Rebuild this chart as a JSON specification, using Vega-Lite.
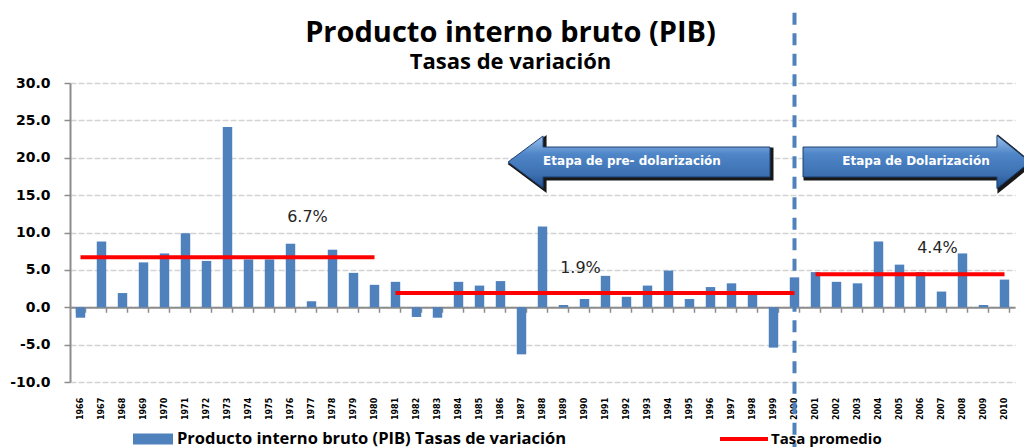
{
  "$schema": "https://vega.github.io/schema/vega-lite/v6.json",
  "autosize": {"type": "none"},
  "width": 945,
  "height": 299,
  "padding": {"left": 70, "top": 83, "right": 9, "bottom": 65},
  "background": "#ffffff",
  "title": {
    "text": "Producto interno bruto (PIB)",
    "subtitle": "Tasas de variación",
    "anchor": "middle",
    "dx": -32,
    "frame": "group",
    "offset": -62,
    "font": "Open Sans",
    "fontSize": 29,
    "fontWeight": "bold",
    "color": "#000000",
    "subtitleFont": "Open Sans",
    "subtitleFontSize": 22,
    "subtitleFontWeight": "bold",
    "subtitleColor": "#000000",
    "subtitlePadding": 4
  },
  "config": {
    "view": {"stroke": null},
    "legend": {"padding": 0, "labelLimit": 600},
    "axisY": {
      "grid": true,
      "gridColor": "#d4d4d4",
      "gridDash": [6, 2],
      "gridWidth": 1.5,
      "gridOpacity": 1,
      "labelOverlap": false,
      "labelSeparation": 0,
      "labelFont": "DejaVu Sans",
      "labelFontWeight": "bold",
      "labelFontSize": 14,
      "labelColor": "#000000",
      "labelPadding": 14,
      "tickSize": 6,
      "tickColor": "#8c8c8c",
      "tickWidth": 1.5,
      "domainColor": "#8c8c8c",
      "domainWidth": 2
    }
  },
  "datasets": {
    "bars": [
      {"year": "1966", "pib": -1.4}, {"year": "1967", "pib": 8.8}, {"year": "1968", "pib": 1.9},
      {"year": "1969", "pib": 6.0}, {"year": "1970", "pib": 7.2}, {"year": "1971", "pib": 9.9},
      {"year": "1972", "pib": 6.2}, {"year": "1973", "pib": 24.1}, {"year": "1974", "pib": 6.4},
      {"year": "1975", "pib": 6.4}, {"year": "1976", "pib": 8.5}, {"year": "1977", "pib": 0.8},
      {"year": "1978", "pib": 7.7}, {"year": "1979", "pib": 4.6}, {"year": "1980", "pib": 3.0},
      {"year": "1981", "pib": 3.4}, {"year": "1982", "pib": -1.3}, {"year": "1983", "pib": -1.4},
      {"year": "1984", "pib": 3.4}, {"year": "1985", "pib": 2.9}, {"year": "1986", "pib": 3.5},
      {"year": "1987", "pib": -6.3}, {"year": "1988", "pib": 10.8}, {"year": "1989", "pib": 0.3},
      {"year": "1990", "pib": 1.1}, {"year": "1991", "pib": 4.2}, {"year": "1992", "pib": 1.4},
      {"year": "1993", "pib": 2.9}, {"year": "1994", "pib": 4.9}, {"year": "1995", "pib": 1.1},
      {"year": "1996", "pib": 2.7}, {"year": "1997", "pib": 3.2}, {"year": "1998", "pib": 1.8},
      {"year": "1999", "pib": -5.4}, {"year": "2000", "pib": 4.0}, {"year": "2001", "pib": 4.7},
      {"year": "2002", "pib": 3.4}, {"year": "2003", "pib": 3.2}, {"year": "2004", "pib": 8.8},
      {"year": "2005", "pib": 5.7}, {"year": "2006", "pib": 4.7}, {"year": "2007", "pib": 2.1},
      {"year": "2008", "pib": 7.2}, {"year": "2009", "pib": 0.3}, {"year": "2010", "pib": 3.7}
    ],
    "avg": [
      {"year": "1966", "period": "pre", "avg": 6.7}, {"year": "1980", "period": "pre", "avg": 6.7},
      {"year": "1981", "period": "mid", "avg": 1.9}, {"year": "2000", "period": "mid", "avg": 1.9},
      {"year": "2001", "period": "dol", "avg": 4.4}, {"year": "2010", "period": "dol", "avg": 4.4}
    ],
    "labels": [
      {"year": "1977", "y": 12.07, "label": "6.7%"},
      {"year": "1990", "y": 5.25, "label": "1.9%"},
      {"year": "2007", "y": 7.97, "label": "4.4%"}
    ],
    "arrows": [
      {"year": "1993", "y": 19.43, "dir": "left"},
      {"year": "2006", "y": 19.43, "dir": "right"}
    ]
  },
  "encoding": {
    "x": {
      "field": "year",
      "type": "nominal",
      "sort": null,
      "scale": {"paddingInner": 0.55, "paddingOuter": 0.275},
      "axis": {
        "orient": "bottom",
        "offset": -74.75,
        "title": null,
        "grid": false,
        "domainColor": "#8c8c8c",
        "domainWidth": 2,
        "tickColor": "#8c8c8c",
        "tickSize": 5,
        "tickWidth": 1.5,
        "tickBand": "extent",
        "labelAngle": 270,
        "labelOverlap": false,
        "labelFont": "DejaVu Sans",
        "labelFontWeight": "bold",
        "labelFontSize": 8,
        "labelColor": "#000000",
        "labelPadding": 85
      }
    }
  },
  "layer": [
    {
      "data": {"name": "bars"},
      "mark": {"type": "bar"},
      "encoding": {
        "y": {
          "field": "pib",
          "type": "quantitative",
          "scale": {"domain": [-10, 30], "nice": false},
          "axis": {
            "title": null,
            "values": [-10, -5, 0, 5, 10, 15, 20, 25, 30],
            "tickCount": 9,
            "format": ".1f",
            "labelExpr": "replace(datum.label, '\u2212', '-')"
          }
        },
        "fill": {
          "datum": "Producto interno bruto (PIB) Tasas de variación",
          "scale": {"range": ["#4f81bd"]},
          "legend": {
            "title": null,
            "orient": "none",
            "legendX": 63,
            "legendY": 336,
            "symbolType": "M-1,-0.28H1V0.28H-1Z",
            "symbolSize": 1600,
            "symbolStrokeWidth": 0,
            "labelFont": "Open Sans",
            "labelFontWeight": "bold",
            "labelFontSize": 16.5,
            "labelColor": "#000000",
            "labelOffset": 4
          }
        }
      }
    },
    {
      "data": {"name": "avg"},
      "mark": {"type": "line", "strokeWidth": 4},
      "encoding": {
        "y": {"field": "avg", "type": "quantitative"},
        "detail": {"field": "period"},
        "stroke": {
          "datum": "Tasa promedio",
          "scale": {"range": ["#ff0000"]},
          "legend": {
            "title": null,
            "orient": "none",
            "legendX": 650,
            "legendY": 332,
            "symbolType": "M-1,-0.085H1V0.085H-1Z",
            "symbolSize": 2304,
            "symbolFillColor": "#ff0000",
            "symbolStrokeWidth": 0,
            "labelFont": "Open Sans",
            "labelFontWeight": "bold",
            "labelFontSize": 15,
            "labelColor": "#000000",
            "labelOffset": 3
          }
        }
      }
    },
    {
      "data": {"name": "labels"},
      "mark": {"type": "text", "font": "DejaVu Sans", "fontSize": 16, "color": "#262626", "dx": -4, "baseline": "middle"},
      "encoding": {
        "y": {"field": "y", "type": "quantitative"},
        "text": {"field": "label"}
      }
    },
    {
      "data": {"values": [{"year": "2000"}]},
      "mark": {"type": "rule", "color": "#4f81bd", "strokeWidth": 4, "strokeDash": [12, 8.5]},
      "encoding": {
        "y": {"datum": 39.4},
        "y2": {"datum": -20}
      }
    },
    {
      "data": {"name": "arrows"},
      "mark": {"type": "point", "filled": true, "size": 78400, "fill": "#000000", "stroke": "#000000", "strokeWidth": 3, "opacity": 0.9, "xOffset": 2, "yOffset": 2},
      "encoding": {
        "y": {"field": "y", "type": "quantitative"},
        "shape": {
          "field": "dir",
          "scale": {
            "domain": ["left", "right"],
            "range": [
              "M-0.996,0L-0.746,-0.186L-0.746,-0.107L0.875,-0.107L0.875,0.107L-0.746,0.107L-0.746,0.186Z",
              "M-0.839,-0.107L0.546,-0.107L0.546,-0.19L0.782,0L0.546,0.19L0.546,0.107L-0.839,0.107Z"
            ]
          },
          "legend": null
        }
      }
    },
    {
      "data": {"name": "arrows"},
      "mark": {
        "type": "point",
        "filled": true,
        "size": 78400,
        "opacity": 1,
        "fill": {
          "gradient": "linear",
          "x1": 0, "y1": 0, "x2": 0, "y2": 1,
          "stops": [
            {"offset": 0, "color": "#9cc0ea"},
            {"offset": 0.35, "color": "#4f86c8"},
            {"offset": 0.75, "color": "#3b6fb0"},
            {"offset": 1, "color": "#22508e"}
          ]
        },
        "stroke": "#1c3f70",
        "strokeWidth": 1
      },
      "encoding": {
        "y": {"field": "y", "type": "quantitative"},
        "shape": {"field": "dir", "legend": null}
      }
    },
    {
      "data": {"values": [{"year": "1993", "y": 19.55, "label": "Etapa de pre- dolarización"}]},
      "mark": {"type": "text", "font": "DejaVu Sans", "fontWeight": "bold", "fontSize": 12, "color": "#ffffff", "dx": -15.5, "baseline": "middle"},
      "encoding": {
        "y": {"field": "y", "type": "quantitative"},
        "text": {"field": "label"}
      }
    },
    {
      "data": {"values": [{"year": "2006", "y": 19.55, "label": "Etapa de Dolarización"}]},
      "mark": {"type": "text", "font": "DejaVu Sans", "fontWeight": "bold", "fontSize": 12, "color": "#ffffff", "dx": -4.5, "baseline": "middle"},
      "encoding": {
        "y": {"field": "y", "type": "quantitative"},
        "text": {"field": "label"}
      }
    }
  ]
}
